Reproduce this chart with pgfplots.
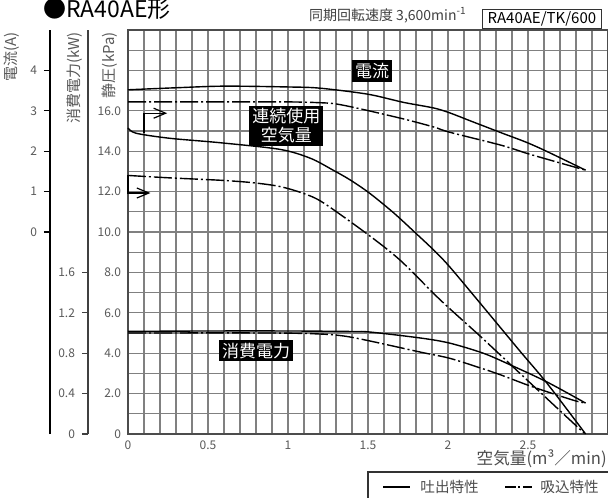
\documentclass[border=0pt]{standalone}
\usepackage{pgfplots}
\pgfplotsset{compat=1.18}
\usepackage{pgfplotstable}
\usepackage{fontspec}
\setmainfont{Noto Sans CJK JP}
\usetikzlibrary{arrows.meta}

\pgfplotstableread{
x A
0 3.52
0.3 3.57
0.6 3.61
1.0 3.59
1.2 3.56
1.5 3.41
1.72 3.21
1.91 3.07
2.01 2.95
2.14 2.75
2.33 2.46
2.49 2.22
2.62 1.99
2.86 1.53
}\curD
\pgfplotstableread{
x A
0 3.22
0.5 3.22
1.0 3.22
1.2 3.20
1.3 3.17
1.45 3.05
1.72 2.80
1.91 2.60
2.01 2.47
2.33 2.15
2.49 1.95
2.62 1.80
2.86 1.53
}\curS
\pgfplotstableread{
x P
0 15.15
0.05 14.89
0.26 14.64
0.575 14.42
0.95 14.09
1.14 13.65
1.28 13.07
1.39 12.57
1.51 11.92
1.66 10.95
1.80 9.93
1.91 9.11
2.01 8.28
2.23 6.2
2.45 4.1
2.62 2.5
2.86 0
}\preD
\pgfplotstableread{
x P
0 12.8
0.26 12.68
0.58 12.56
0.78 12.44
0.95 12.25
1.1 11.9
1.22 11.45
1.49 9.93
1.7 8.61
1.95 6.65
2.2 4.85
2.45 3.0
2.7 1.15
2.85 0.05
}\preS
\pgfplotstableread{
x kW
0 1.016
0.5 1.02
1.0 1.02
1.4 1.015
1.51 1.01
1.83 0.95
2.01 0.90
2.22 0.80
2.39 0.684
2.62 0.514
2.86 0.306
}\powD
\pgfplotstableread{
x kW
0 1.0
0.9 1.0
1.2 0.99
1.35 0.97
1.5 0.925
1.83 0.81
2.01 0.75
2.2 0.655
2.33 0.585
2.53 0.466
2.78 0.336
2.86 0.306
}\powS

\tikzset{dd/.style={dash pattern=on 9pt off 1.5pt on 1pt off 1.5pt}}

\begin{document}
\begin{tikzpicture}
% current axis (A)
\begin{axis}[
  at={(-39pt,0pt)}, anchor=south west,
  scale only axis, width=10pt, height=202pt,
  xmin=0, xmax=1, ymin=-5, ymax=5,
  axis x line=none, axis y line*=left,
  ytick={0,1,2,3,4}, yticklabels={0,1,2,3,4},
  ytick pos=left, tick align=outside, major tick length=3pt,
  axis line style={black, line width=0.8pt},
  tick style={black, line width=0.6pt},
  tick label style={font=\fontsize{6}{7}\selectfont, text=black!65},
]
\end{axis}
% power axis (kW)
\begin{axis}[
  at={(-20pt,0pt)}, anchor=south west,
  scale only axis, width=10pt, height=202pt,
  xmin=0, xmax=1, ymin=0, ymax=4,
  axis x line=none, axis y line*=left,
  ytick={0,0.4,0.8,1.2,1.6}, yticklabels={0,0.4,0.8,1.2,1.6},
  ytick pos=left, tick align=outside, major tick length=3pt,
  axis line style={black!75, line width=0.8pt},
  tick style={black!75, line width=0.6pt},
  tick label style={font=\fontsize{6}{7}\selectfont, text=black!65},
]
\end{axis}
% main axis (kPa)
\begin{axis}[
  at={(0pt,0pt)}, anchor=south west,
  scale only axis, width=240pt, height=202pt,
  xmin=0, xmax=3, ymin=0, ymax=20,
  xtick={0,0.5,...,3}, minor x tick num=4,
  xticklabels={0,0.5,1,1.5,2,2.5,},
  ytick={0,2,...,20}, minor y tick num=1,
  yticklabels={0,2.0,4.0,6.0,8.0,10.0,12.0,14.0,16.0,,},
  grid=both,
  major grid style={black!50, line width=0.6pt},
  minor grid style={black!50, line width=0.6pt},
  major tick length=0pt, minor tick length=0pt,
  axis line style={black!70, line width=0.8pt},
  tick label style={font=\fontsize{6}{7}\selectfont, text=black!65},
  /pgf/number format/assume math mode=true,
  clip=false,
]
\addplot[black, line width=0.7pt, smooth] table[x=x, y expr=\thisrow{A}*2+10] {\curD};
\addplot[black, line width=0.7pt, smooth, dd] table[x=x, y expr=\thisrow{A}*2+10] {\curS};
\addplot[black, line width=0.7pt, smooth] table[x=x, y=P] {\preD};
\addplot[black, line width=0.7pt, smooth, dd] table[x=x, y=P] {\preS};
\addplot[black, line width=0.7pt, smooth] table[x=x, y expr=\thisrow{kW}*5] {\powD};
\addplot[black, line width=0.7pt, smooth, dd] table[x=x, y expr=\thisrow{kW}*5] {\powS};

\draw[black, line width=0.6pt, -{Straight Barb[length=6pt,width=5pt]}] (axis cs:0.1,14.88) |- (axis cs:0.245,15.88);
\draw[black, line width=0.6pt, -{Straight Barb[length=6pt,width=5pt]}] (axis cs:0,12.8) |- (axis cs:0.14,11.93);

\node[fill=black, text=white, inner sep=1.5pt, font=\fontsize{8.5}{9.5}\selectfont] at (axis cs:1.525,17.97) {電流};
\node[fill=black, text=white, inner sep=1.5pt, align=center, font=\fontsize{8.5}{9.5}\selectfont] at (axis cs:0.99,15.25) {連続使用\\空気量};
\node[fill=black, text=white, inner sep=1.5pt, font=\fontsize{8.5}{9.5}\selectfont] at (axis cs:0.80,4.13) {消費電力};
\end{axis}

% axis titles
\node[rotate=90, anchor=east, text=black!65, font=\fontsize{7.5}{8}\selectfont, inner sep=0pt] at (-58pt,201pt) {電流(A)};
\node[rotate=90, anchor=east, text=black!65, font=\fontsize{7.5}{8}\selectfont, inner sep=0pt] at (-26.5pt,201pt) {消費電力(kW)};
\node[rotate=90, anchor=east, text=black!65, font=\fontsize{7.5}{8}\selectfont, inner sep=0pt] at (-9pt,201pt) {静圧(kPa)};
\node[anchor=east, text=black!70, font=\fontsize{8.3}{9}\selectfont, inner sep=0pt] at (239.5pt,-12.5pt) {空気量(m³／min)};

% header
\node[anchor=base west, inner sep=0pt, font=\fontsize{11.5}{13}\selectfont] at (-42.5pt,208pt) {●RA40AE形};
\node[anchor=base east, inner sep=0pt, text=black!75, font=\fontsize{7}{8}\selectfont] at (169.5pt,206.5pt) {同期回転速度 3,600min\textsuperscript{-1}};
\node[draw=black!80, line width=0.6pt, anchor=south west, minimum height=9.5pt, inner xsep=2.5pt, inner ysep=0pt, font=\fontsize{7.5}{8}\selectfont] at (177pt,202.5pt) {RA40AE/TK/600\hspace{10pt}};

% legend
\draw[black!80, line width=0.6pt] (250pt,-19pt) -- (120pt,-19pt) -- (120pt,-40pt);
\draw[black, line width=0.7pt] (127.5pt,-26.5pt) -- (141pt,-26.5pt);
\node[anchor=west, inner sep=0pt, text=black!70, font=\fontsize{7.3}{8}\selectfont] at (146pt,-26.5pt) {吐出特性};
\draw[black, line width=0.7pt, dash pattern=on 5.5pt off 1.2pt on 1pt off 1.2pt] (188.5pt,-26.5pt) -- (202pt,-26.5pt);
\node[anchor=west, inner sep=0pt, text=black!70, font=\fontsize{7.3}{8}\selectfont] at (206pt,-26.5pt) {吸込特性};

\pgfresetboundingbox
\path (-64pt,-31.5pt) rectangle (240pt,217pt);
\end{tikzpicture}
\end{document}
